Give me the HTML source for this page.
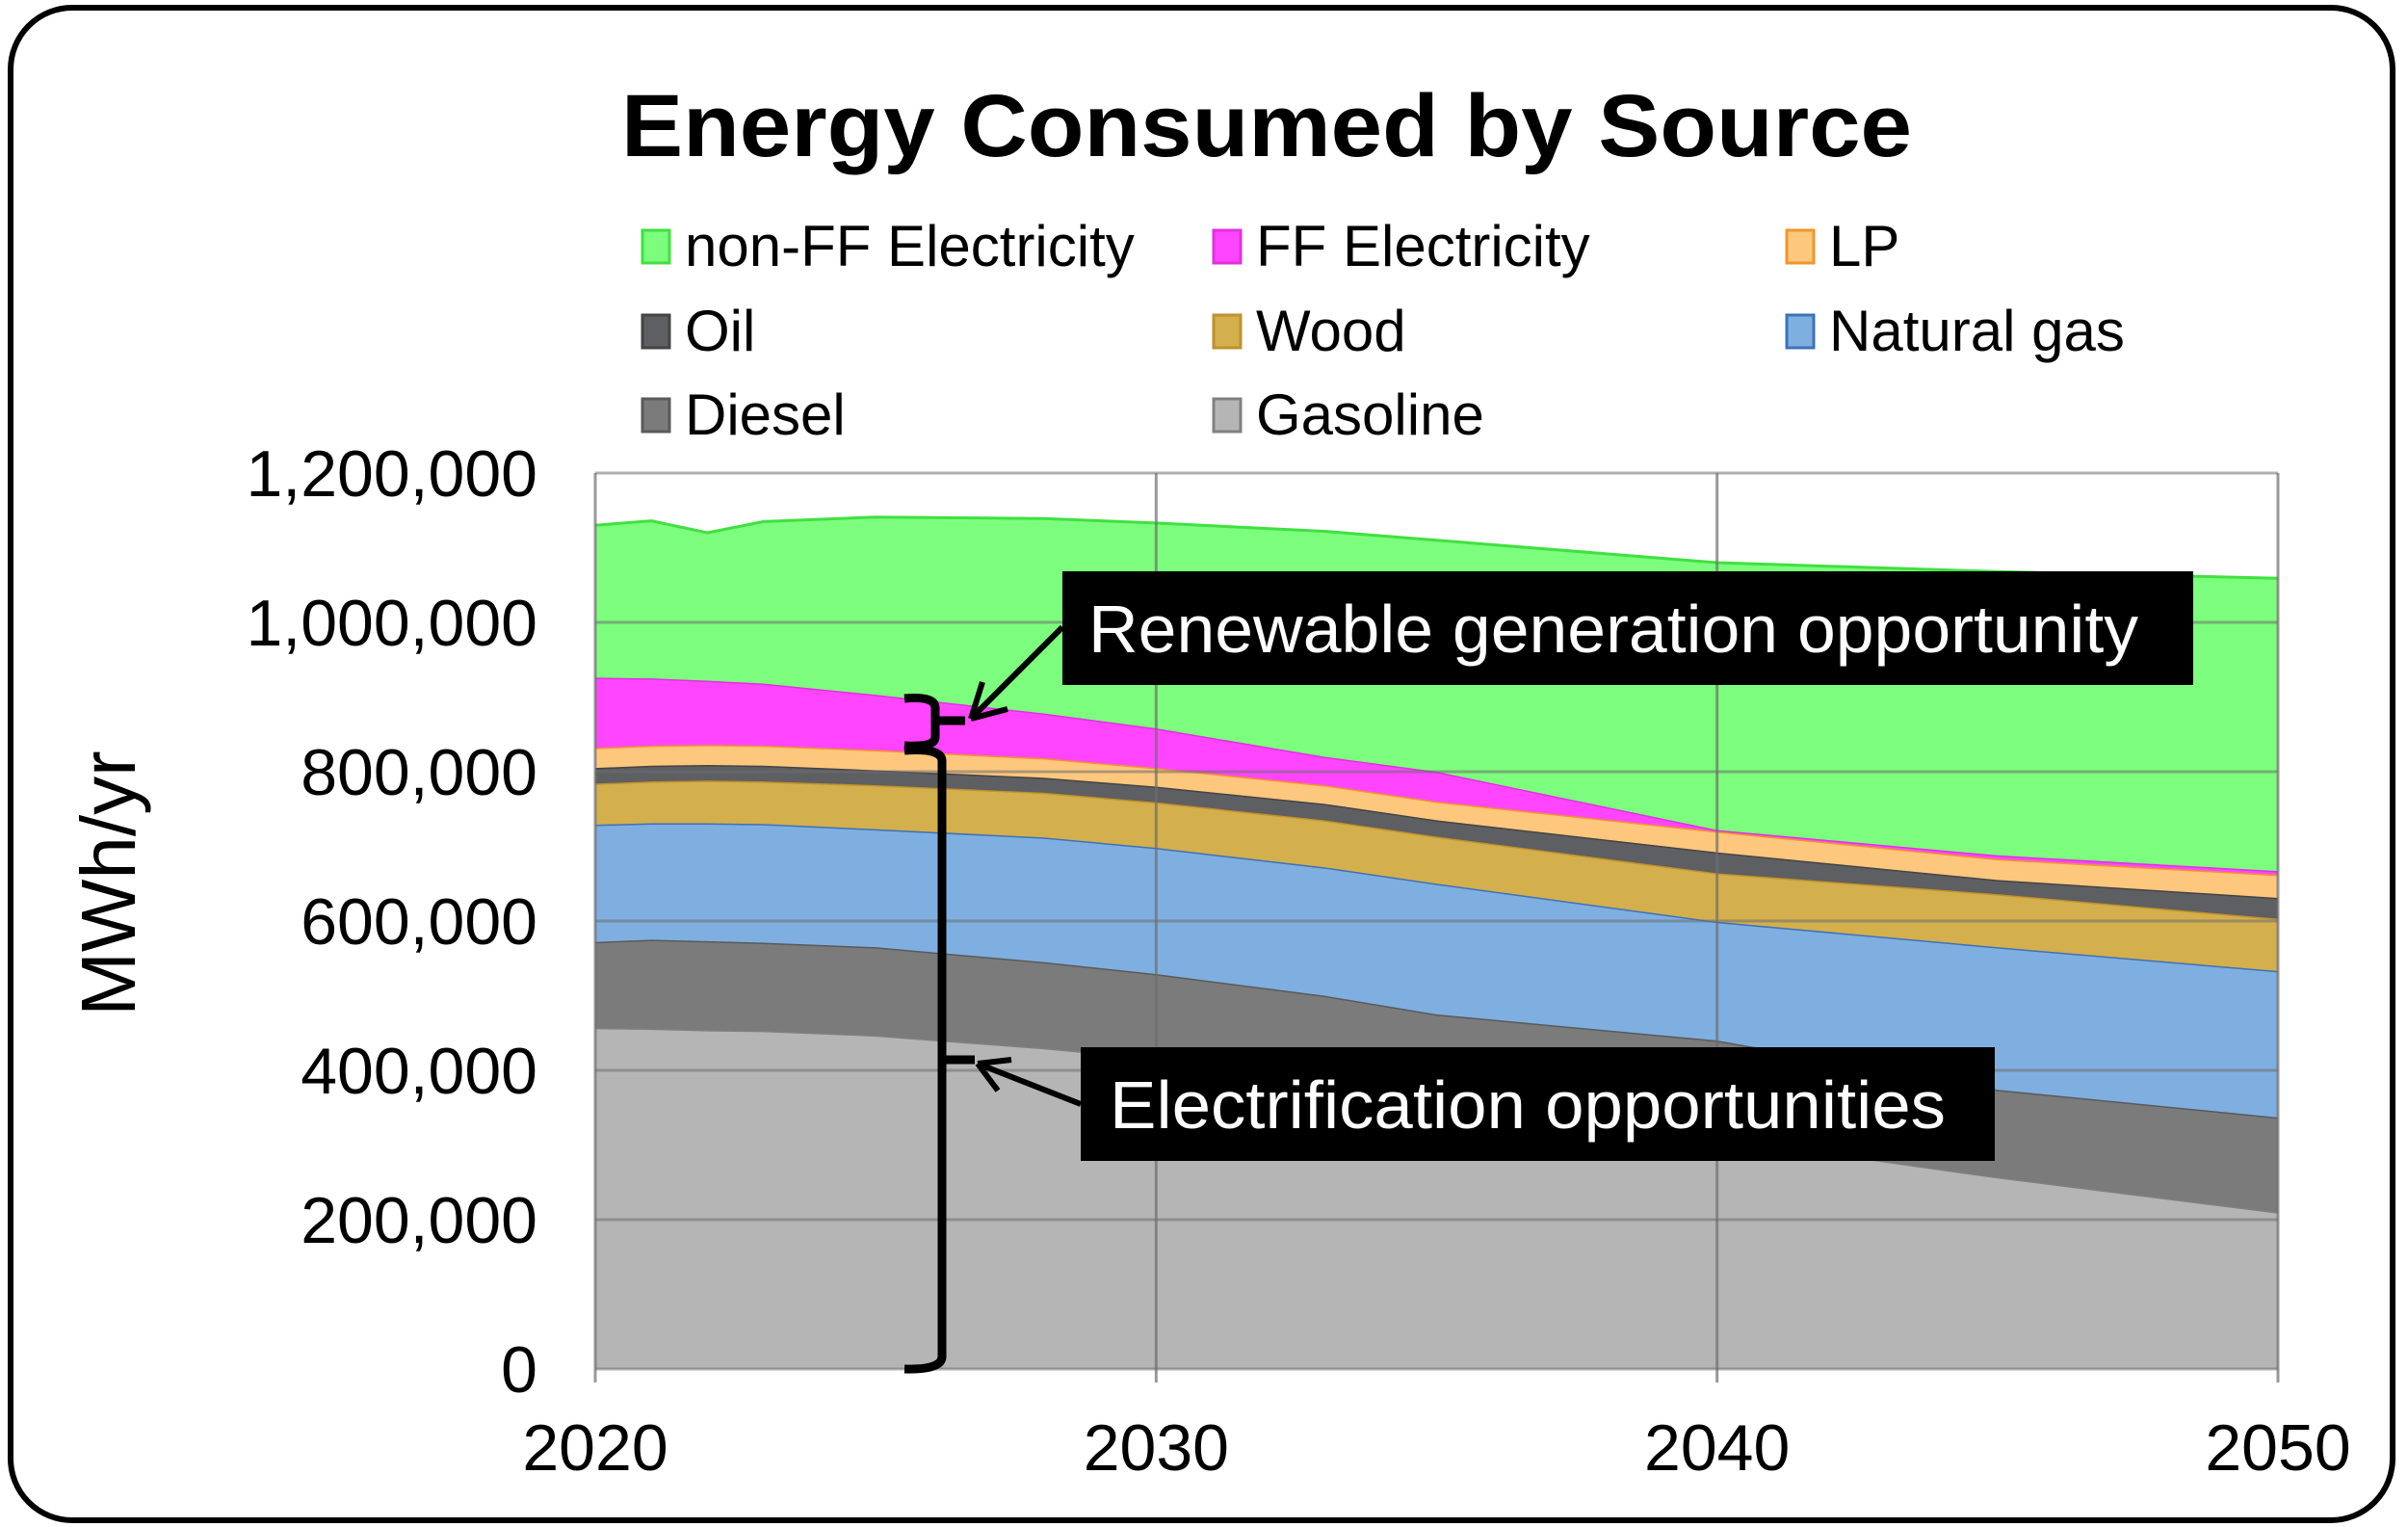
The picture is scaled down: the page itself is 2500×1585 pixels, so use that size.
<!DOCTYPE html>
<html><head><meta charset="utf-8"><style>
html,body{margin:0;padding:0;background:#fff;}
svg{display:block;}
text{font-family:"Liberation Sans",Arial,sans-serif;}
</style></head><body>
<svg id="chart" width="2500" height="1585" viewBox="0 0 2500 1585" xmlns="http://www.w3.org/2000/svg">
<rect x="11" y="8" width="2473" height="1570" rx="64" ry="64" fill="#fff" stroke="#000" stroke-width="6"/>
<text x="1315" y="162" text-anchor="middle" font-size="92" font-weight="bold" textLength="1340" lengthAdjust="spacingAndGlyphs">Energy Consumed by Source</text>
<g id="legend"></g>
<g id="areas"></g>
<g id="grid"></g>
<g id="axes"></g>
<text transform="translate(140,917) rotate(-90)" text-anchor="middle" font-size="80">MWh/yr</text>
<g stroke="#000" fill="none" stroke-linecap="butt">
  <path d="M939,725 Q971,722 971,735 L971,765 Q971,776 939,774 M971,748 L1002,748" stroke-width="9"/>
  <path d="M939,779 Q978,776 978,790 L978,1408 Q978,1422 939,1421 M978,1100 L1012,1100" stroke-width="9"/>
  <path d="M1103,651 L1008,746 M1008,746 L1020,708 M1008,746 L1046,736" stroke-width="6"/>
  <path d="M1122,1146 L1015,1104 M1015,1104 L1050,1100 M1015,1104 L1036,1132" stroke-width="6"/>
</g>
<rect x="1103" y="593" width="1174" height="118" fill="#000"/>
<text x="1130" y="677" font-size="70" fill="#fff" textLength="1090" lengthAdjust="spacingAndGlyphs">Renewable generation opportunity</text>
<rect x="1122" y="1087" width="949" height="118" fill="#000"/>
<text x="1152" y="1171" font-size="70" fill="#fff" textLength="868" lengthAdjust="spacingAndGlyphs">Electrification opportunities</text>
</svg>
<script>
const years = [2020,2021,2022,2023,2025,2028,2030,2033,2035,2040,2045,2050];
const gasoline = [457,456,454,453,447,430,416,392,370,310,257,210];
const diesel   = [115,119,119,118,118,115,113,108,105,130,117,127];
const natgas   = [157,156,158,159,158,167,169,172,175,159,191,196];
const wood     = [55,56,57,57,59,60,61,63,63,65,71,70];
const oil      = [21,21,21,21,20,20,21,22,22,28,19,28];
const lp       = [27,27,27,27,27,26,25,25,25,28,28,31];
const ffElec   = [94,90,86,83,74,60,53,38,40,2,5,5];
const nonFF    = [204,211,198,217,238,261,275,302,310,358,380,392];
const yTicks = [0,200000,400000,600000,800000,1000000,1200000];
const yTickLabels = ["0","200,000","400,000","600,000","800,000","1,000,000","1,200,000"];
const xTicks = [2020,2030,2040,2050];
const seriesNames = ["Gasoline","Diesel","Natural gas","Wood","Oil","LP","FF Electricity","non-FF Electricity"];

const NS="http://www.w3.org/2000/svg";
const X0=618,X1=2365,Y0=1421,Y1=491;
const xs=y=>X0+(y-2020)/30*(X1-X0);
const ys=v=>Y0-v/1200000*(Y0-Y1);
function mk(tag,attrs,parent){const e=document.createElementNS(NS,tag);for(const k in attrs)e.setAttribute(k,attrs[k]);parent.appendChild(e);return e;}

const layers=[gasoline,diesel,natgas,wood,oil,lp,ffElec,nonFF];
const fills=["#b5b5b5","#7b7b7b","#7fafe0","#d4af4d","#5e5f62","#fdc77e","#ff45ff","#7dfd7d"];
const strokes=["#808080","#5a5a5a","#3d72b8","#c0922a","#444","#f0962a","#e030e0","#40e040"];
const slugs=["gasoline","diesel","natural-gas","wood","oil","lp","ff-electricity","non-ff-electricity"];
const areas=document.getElementById('areas');
let base=years.map(()=>0);
layers.forEach((arr,i)=>{
  const top=base.map((b,j)=>b+arr[j]*1000);
  let d="M"+years.map((y,j)=>xs(y)+","+ys(top[j])).join(" L");
  for(let j=years.length-1;j>=0;j--) d+=" L"+xs(years[j])+","+ys(base[j]);
  d+=" Z";
  const p=mk('path',{d:d,fill:fills[i]},areas);
  
  
  const l=mk('path',{d:"M"+years.map((y,j)=>xs(y)+","+ys(top[j])).join(" L"),fill:"none",stroke:strokes[i],"stroke-width":3},areas);
  
  
  base=top;
});

const grid=document.getElementById('grid');
const axes=document.getElementById('axes');
yTicks.forEach((t,i)=>{
  const g=mk('line',{x1:X0,x2:X1,y1:ys(t),y2:ys(t),stroke:"rgba(110,110,110,0.55)","stroke-width":3},grid);
  
  
  const tx=mk('text',{x:558,y:ys(t)+24,"text-anchor":"end","font-size":68},axes);
  tx.textContent=yTickLabels[i];
  
  
});
xTicks.forEach(t=>{
  const g=mk('line',{x1:xs(t),x2:xs(t),y1:Y1,y2:Y0+14,stroke:"rgba(110,110,110,0.7)","stroke-width":3},grid);
  
  
  const tx=mk('text',{x:xs(t),y:1526,"text-anchor":"middle","font-size":68},axes);
  tx.textContent=String(t);
  
  
});

const legend=document.getElementById('legend');
const legOrder=[7,6,5,4,3,2,1,0];
const colX=[681,1274,1869], rowY=[255,343,430];
legOrder.forEach((si,k)=>{
  const c=k%3,r=Math.floor(k/3);
  const g=mk('g',{},legend);
  
  
  mk('rect',{x:colX[c]-14,y:rowY[r]-16,width:28,height:34,fill:fills[si],stroke:strokes[si],"stroke-width":3},g);
  const tx=mk('text',{x:colX[c]+30,y:rowY[r]+21,"font-size":60},g);
  tx.textContent=seriesNames[si];
});
</script>
</body></html>
